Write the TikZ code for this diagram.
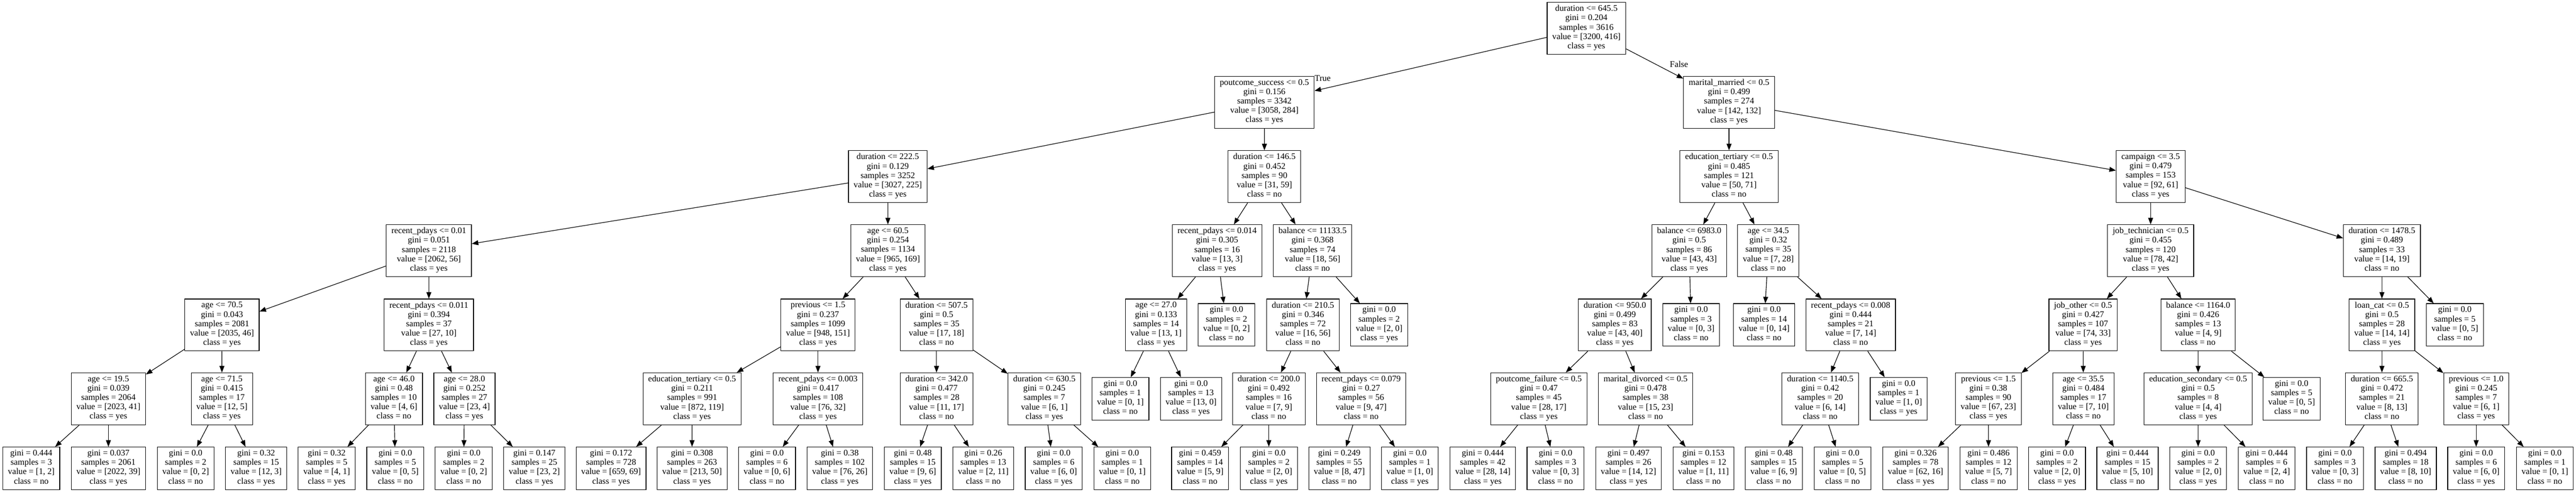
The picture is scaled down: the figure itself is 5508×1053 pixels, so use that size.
\documentclass[tikz,border=0pt]{standalone}
\usepackage{fontspec}
\setmainfont{Liberation Serif}
\usetikzlibrary{arrows.meta}
\newcommand\dsplit[5]{#1\\gini = #2\\samples = #3\\value = [#4]\\class = #5}
\newcommand\dleaf[4]{gini = #1\\samples = #2\\value = [#3]\\class = #4}
\begin{document}
\begin{tikzpicture}[x=0.5pt,y=-0.5pt,
  tnode/.style={draw, line width=0.65pt, fill=white, align=center, inner xsep=5.5pt, inner ysep=0pt,
    font=\fontsize{9.25}{10}\selectfont, execute at begin node=\strut, execute at end node=\strut},
  split/.style={tnode, minimum height=55.5pt},
  leaf/.style={tnode, minimum height=45.5pt},
  conn/.style={-{Triangle[length=7pt,width=5.25pt]}, line width=0.65pt},
  lbl/.style={font=\fontsize{9.25}{10}\selectfont, inner sep=0pt}]
\fill[white] (0,0) rectangle (5508,1053);
\useasboundingbox (0,0) rectangle (5508,1053);
% level 0
\node[split] (r) at (3392,60.5) {\dsplit{duration <= 645.5}{0.204}{3616}{3200, 416}{yes}};
% level 1
\node[split] (a) at (2703.5,219) {\dsplit{poutcome\_success <= 0.5}{0.156}{3342}{3058, 284}{yes}};
\node[split] (b) at (3697,219) {\dsplit{marital\_married <= 0.5}{0.499}{274}{142, 132}{yes}};
% level 2
\node[split] (aa) at (1898.3,378) {\dsplit{duration <= 222.5}{0.129}{3252}{3027, 225}{yes}};
\node[split] (ab) at (2703.6,378) {\dsplit{duration <= 146.5}{0.452}{90}{31, 59}{no}};
\node[split] (ba) at (3697,378) {\dsplit{education\_tertiary <= 0.5}{0.485}{121}{50, 71}{no}};
\node[split] (bb) at (4598.4,378) {\dsplit{campaign <= 3.5}{0.479}{153}{92, 61}{yes}};
% level 3
\node[split] (aaa) at (917,536.5) {\dsplit{recent\_pdays <= 0.01}{0.051}{2118}{2062, 56}{yes}};
\node[split] (aab) at (1898.6,536.5) {\dsplit{age <= 60.5}{0.254}{1134}{965, 169}{yes}};
\node[split] (aba) at (2602.4,536.5) {\dsplit{recent\_pdays <= 0.014}{0.305}{16}{13, 3}{yes}};
\node[split] (abb) at (2806.5,536.5) {\dsplit{balance <= 11133.5}{0.368}{74}{18, 56}{no}};
\node[split] (baa) at (3611.8,536.5) {\dsplit{balance <= 6983.0}{0.5}{86}{43, 43}{yes}};
\node[split] (bab) at (3781,536.5) {\dsplit{age <= 34.5}{0.32}{35}{7, 28}{no}};
\node[split] (bba) at (4598.4,536.5) {\dsplit{job\_technician <= 0.5}{0.455}{120}{78, 42}{yes}};
\node[split] (bbb) at (5093,536.5) {\dsplit{duration <= 1478.5}{0.489}{33}{14, 19}{no}};
% level 4
\node[split] (aaaa) at (474.7,695.5) {\dsplit{age <= 70.5}{0.043}{2081}{2035, 46}{yes}};
\node[split] (aaab) at (917,695.5) {\dsplit{recent\_pdays <= 0.011}{0.394}{37}{27, 10}{yes}};
\node[split] (aaba) at (1749,695.5) {\dsplit{previous <= 1.5}{0.237}{1099}{948, 151}{yes}};
\node[split] (aabb) at (2002.5,695.5) {\dsplit{duration <= 507.5}{0.5}{35}{17, 18}{no}};
\node[split] (abaa) at (2471.9,695.5) {\dsplit{age <= 27.0}{0.133}{14}{13, 1}{yes}};
\node[leaf]  (abab) at (2622.4,695.5) {\dleaf{0.0}{2}{0, 2}{no}};
\node[split] (abba) at (2786,695.5) {\dsplit{duration <= 210.5}{0.346}{72}{16, 56}{no}};
\node[leaf]  (abbb) at (2948.8,695.5) {\dleaf{0.0}{2}{2, 0}{yes}};
\node[split] (baaa) at (3452.8,695.5) {\dsplit{duration <= 950.0}{0.499}{83}{43, 40}{yes}};
\node[leaf]  (baab) at (3615.9,695.5) {\dleaf{0.0}{3}{0, 3}{no}};
\node[leaf]  (baba) at (3771.9,695.5) {\dleaf{0.0}{14}{0, 14}{no}};
\node[split] (babb) at (3957,695.5) {\dsplit{recent\_pdays <= 0.008}{0.444}{21}{7, 14}{no}};
\node[split] (bbaa) at (4454,695.5) {\dsplit{job\_other <= 0.5}{0.427}{107}{74, 33}{yes}};
\node[split] (bbab) at (4700,695.5) {\dsplit{balance <= 1164.0}{0.426}{13}{4, 9}{no}};
\node[split] (bbba) at (5093,695.5) {\dsplit{loan\_cat <= 0.5}{0.5}{28}{14, 14}{yes}};
\node[leaf]  (bbbb) at (5248.9,695.5) {\dleaf{0.0}{5}{0, 5}{no}};
% level 5
\node[split] (aaaaa) at (231.8,853.5) {\dsplit{age <= 19.5}{0.039}{2064}{2023, 41}{yes}};
\node[split] (aaaab) at (474.4,853.5) {\dsplit{age <= 71.5}{0.415}{17}{12, 5}{yes}};
\node[split] (aaaba) at (842.3,853.5) {\dsplit{age <= 46.0}{0.48}{10}{4, 6}{no}};
\node[split] (aaabb) at (993,853.5) {\dsplit{age <= 28.0}{0.252}{27}{23, 4}{yes}};
\node[split] (aabaa) at (1479.8,853.5) {\dsplit{education\_tertiary <= 0.5}{0.211}{991}{872, 119}{yes}};
\node[split] (aabab) at (1749,853.5) {\dsplit{recent\_pdays <= 0.003}{0.417}{108}{76, 32}{yes}};
\node[split] (aabba) at (2002.5,853.5) {\dsplit{duration <= 342.0}{0.477}{28}{11, 17}{no}};
\node[split] (aabbb) at (2233,853.5) {\dsplit{duration <= 630.5}{0.245}{7}{6, 1}{yes}};
\node[leaf]  (abaaa) at (2395.6,853.5) {\dleaf{0.0}{1}{0, 1}{no}};
\node[leaf]  (abaab) at (2546.6,853.5) {\dleaf{0.0}{13}{13, 0}{yes}};
\node[split] (abbaa) at (2713,853.5) {\dsplit{duration <= 200.0}{0.492}{16}{7, 9}{no}};
\node[split] (abbab) at (2910.4,853.5) {\dsplit{recent\_pdays <= 0.079}{0.27}{56}{9, 47}{no}};
\node[split] (baaaa) at (3290.3,853.5) {\dsplit{poutcome\_failure <= 0.5}{0.47}{45}{28, 17}{yes}};
\node[split] (baaab) at (3518.5,853.5) {\dsplit{marital\_divorced <= 0.5}{0.478}{38}{15, 23}{no}};
\node[split] (babba) at (3891.9,853.5) {\dsplit{duration <= 1140.5}{0.42}{20}{6, 14}{no}};
\node[leaf]  (babbb) at (4059.7,853.5) {\dleaf{0.0}{1}{1, 0}{yes}};
\node[split] (bbaaa) at (4251.5,853.5) {\dsplit{previous <= 1.5}{0.38}{90}{67, 23}{yes}};
\node[split] (bbaab) at (4454.6,853.5) {\dsplit{age <= 35.5}{0.484}{17}{7, 10}{no}};
\node[split] (bbaba) at (4700,853.5) {\dsplit{education\_secondary <= 0.5}{0.5}{8}{4, 4}{yes}};
\node[leaf]  (bbabb) at (4899.9,853.5) {\dleaf{0.0}{5}{0, 5}{no}};
\node[split] (bbbaa) at (5093,853.5) {\dsplit{duration <= 665.5}{0.472}{21}{8, 13}{no}};
\node[split] (bbbab) at (5294.5,853.5) {\dsplit{previous <= 1.0}{0.245}{7}{6, 1}{yes}};
% level 6 leaves
\node[leaf] (l01) at (66.9,1002.5) {\dleaf{0.444}{3}{1, 2}{no}};
\node[leaf] (l02) at (231.8,1002.5) {\dleaf{0.037}{2061}{2022, 39}{yes}};
\node[leaf] (l03) at (397,1002.5) {\dleaf{0.0}{2}{0, 2}{no}};
\node[leaf] (l04) at (547.7,1002.5) {\dleaf{0.32}{15}{12, 3}{yes}};
\node[leaf] (l05) at (698.5,1002.5) {\dleaf{0.32}{5}{4, 1}{yes}};
\node[leaf] (l06) at (845.2,1002.5) {\dleaf{0.0}{5}{0, 5}{no}};
\node[leaf] (l07) at (991.5,1002.5) {\dleaf{0.0}{2}{0, 2}{no}};
\node[leaf] (l08) at (1142.6,1002.5) {\dleaf{0.147}{25}{23, 2}{yes}};
\node[leaf] (l09) at (1306.6,1002.5) {\dleaf{0.172}{728}{659, 69}{yes}};
\node[leaf] (l10) at (1479.7,1002.5) {\dleaf{0.308}{263}{213, 50}{yes}};
\node[leaf] (l11) at (1639.9,1002.5) {\dleaf{0.0}{6}{0, 6}{no}};
\node[leaf] (l12) at (1795.6,1002.5) {\dleaf{0.38}{102}{76, 26}{yes}};
\node[leaf] (l13) at (1951.7,1002.5) {\dleaf{0.48}{15}{9, 6}{yes}};
\node[leaf] (l14) at (2102.5,1002.5) {\dleaf{0.26}{13}{2, 11}{no}};
\node[leaf] (l15) at (2253,1002.5) {\dleaf{0.0}{6}{6, 0}{yes}};
\node[leaf] (l16) at (2399.7,1002.5) {\dleaf{0.0}{1}{0, 1}{no}};
\node[leaf] (l17) at (2566,1002.5) {\dleaf{0.459}{14}{5, 9}{no}};
\node[leaf] (l18) at (2713,1002.5) {\dleaf{0.0}{2}{2, 0}{yes}};
\node[leaf] (l19) at (2863.7,1002.5) {\dleaf{0.249}{55}{8, 47}{no}};
\node[leaf] (l20) at (3014.5,1002.5) {\dleaf{0.0}{1}{1, 0}{yes}};
\node[leaf] (l21) at (3170.6,1002.5) {\dleaf{0.444}{42}{28, 14}{yes}};
\node[leaf] (l22) at (3326,1002.5) {\dleaf{0.0}{3}{0, 3}{no}};
\node[leaf] (l23) at (3482,1002.5) {\dleaf{0.497}{26}{14, 12}{yes}};
\node[leaf] (l24) at (3642.3,1002.5) {\dleaf{0.153}{12}{1, 11}{no}};
\node[leaf] (l25) at (3792.7,1002.5) {\dleaf{0.48}{15}{6, 9}{no}};
\node[leaf] (l26) at (3939.8,1002.5) {\dleaf{0.0}{5}{0, 5}{no}};
\node[leaf] (l27) at (4095.8,1002.5) {\dleaf{0.326}{78}{62, 16}{yes}};
\node[leaf] (l28) at (4251.9,1002.5) {\dleaf{0.486}{12}{5, 7}{no}};
\node[leaf] (l29) at (4398.3,1002.5) {\dleaf{0.0}{2}{2, 0}{yes}};
\node[leaf] (l30) at (4549,1002.5) {\dleaf{0.444}{15}{5, 10}{no}};
\node[leaf] (l31) at (4700,1002.5) {\dleaf{0.0}{2}{2, 0}{yes}};
\node[leaf] (l32) at (4846.5,1002.5) {\dleaf{0.444}{6}{2, 4}{no}};
\node[leaf] (l33) at (4992.7,1002.5) {\dleaf{0.0}{3}{0, 3}{no}};
\node[leaf] (l34) at (5143.8,1002.5) {\dleaf{0.494}{18}{8, 10}{no}};
\node[leaf] (l35) at (5294.5,1002.5) {\dleaf{0.0}{6}{6, 0}{yes}};
\node[leaf] (l36) at (5441.4,1002.5) {\dleaf{0.0}{1}{0, 1}{no}};
% edge labels
\node[lbl] (ltrue) at (2828,167) {True};
\node[lbl] (lfalse) at (3590,137) {False};
% connectors
\foreach \p/\c in {r/a, r/b, a/aa, a/ab, b/ba, b/bb,
  aa/aaa, aa/aab, ab/aba, ab/abb, ba/baa, ba/bab, bb/bba, bb/bbb,
  aaa/aaaa, aaa/aaab, aab/aaba, aab/aabb, aba/abaa, aba/abab, abb/abba, abb/abbb,
  baa/baaa, baa/baab, bab/baba, bab/babb, bba/bbaa, bba/bbab, bbb/bbba, bbb/bbbb,
  aaaa/aaaaa, aaaa/aaaab, aaab/aaaba, aaab/aaabb, aaba/aabaa, aaba/aabab, aabb/aabba, aabb/aabbb,
  abaa/abaaa, abaa/abaab, abba/abbaa, abba/abbab, baaa/baaaa, baaa/baaab, babb/babba, babb/babbb,
  bbaa/bbaaa, bbaa/bbaab, bbab/bbaba, bbab/bbabb, bbba/bbbaa, bbba/bbbab,
  aaaaa/l01, aaaaa/l02, aaaab/l03, aaaab/l04, aaaba/l05, aaaba/l06, aaabb/l07, aaabb/l08,
  aabaa/l09, aabaa/l10, aabab/l11, aabab/l12, aabba/l13, aabba/l14, aabbb/l15, aabbb/l16,
  abbaa/l17, abbaa/l18, abbab/l19, abbab/l20, baaaa/l21, baaaa/l22, baaab/l23, baaab/l24,
  babba/l25, babba/l26, bbaaa/l27, bbaaa/l28, bbaab/l29, bbaab/l30, bbaba/l31, bbaba/l32,
  bbbaa/l33, bbbaa/l34, bbbab/l35, bbbab/l36}
  \draw[conn] (\p) -- (\c);
\end{tikzpicture}
\end{document}
